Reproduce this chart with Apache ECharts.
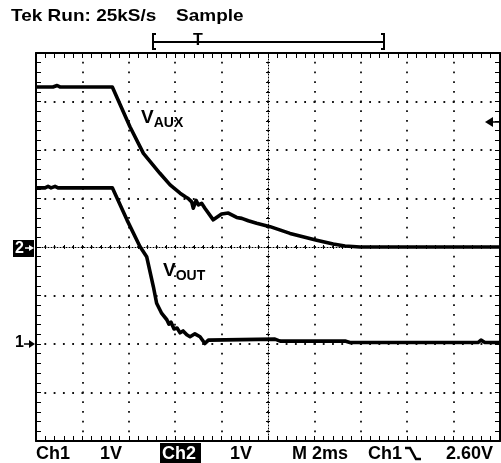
<!DOCTYPE html>
<html>
<head>
<meta charset="utf-8">
<title>Tek scope capture</title>
<script src="https://cdn.jsdelivr.net/npm/echarts@6/dist/echarts.min.js"></script>
<style>
	html, body {
		margin: 0;
		padding: 0;
		background: #fff;
	}
	#chart {
		width: 501px;
		height: 463px;
	}
</style>
</head>
<body>
<div id="chart"></div>
<script>
	// time in ms (M 2ms / div), amplitude in screen divisions
	var vauxT = [0, 0.52, 0.60, 0.73, 0.91, 1.03, 3.29, 4.05, 4.63, 5.34, 5.78, 6.21, 6.42, 6.56, 6.71, 6.78, 6.90, 7.00, 7.14, 7.28, 7.64, 8.00, 8.29, 8.65, 8.87, 9.15, 9.51, 10.09, 10.95, 12.10, 12.81, 13.32, 13.97, 20]
	var vauxV = [7.30, 7.30, 7.33, 7.30, 7.33, 7.30, 7.30, 6.48, 5.93, 5.52, 5.28, 5.11, 5.04, 5.00, 4.93, 4.80, 4.96, 4.87, 4.90, 4.80, 4.56, 4.68, 4.70, 4.61, 4.59, 4.54, 4.49, 4.42, 4.28, 4.14, 4.06, 4.02, 4.00, 4.00]
	var voutT = [0, 0.39, 0.52, 0.65, 0.82, 0.95, 3.29, 3.92, 4.48, 4.77, 5.06, 5.20, 5.42, 5.64, 5.73, 5.82, 5.95, 6.08, 6.21, 6.34, 6.50, 6.64, 6.85, 7.07, 7.28, 7.43, 10.30, 10.52, 13.32, 13.53, 19.05, 19.18, 19.35, 20]
	var voutV = [5.22, 5.22, 5.25, 5.22, 5.25, 5.22, 5.22, 4.56, 4.01, 3.80, 3.18, 2.84, 2.63, 2.50, 2.41, 2.45, 2.31, 2.33, 2.23, 2.27, 2.19, 2.15, 2.21, 2.15, 2.01, 2.08, 2.10, 2.06, 2.06, 2.03, 2.03, 2.08, 2.03, 2.03]

	var statusTexts = ['Ch1', '1V', 'Ch2', '1V', 'M 2ms', 'Ch1', '2.60V']
	var statusX = [36, 100, 162, 230, 292, 368, 446]
	var headerTexts = ['Tek Run: 25kS/s', 'Sample']
	var headerX = [11, 176]

	function pairs(t, v) {
		var out = []
		for (var i = 0; i < t.length; i++) {
			out.push([t[i], v[i]])
		}
		return out
	}

	var font = '"Liberation Sans", Arial, sans-serif'
	var noLabel = { show: false }

	// border axes: solid frame with small inward ticks every 0.2 div
	function frameX(pos) {
		return {
			type: 'value', position: pos, min: 0, max: 20, interval: 2,
			axisLine: { show: true, onZero: false, lineStyle: { color: '#000', width: 2 } },
			axisTick: { show: true, inside: true, length: 5, lineStyle: { color: '#000', width: 1 } },
			minorTick: { show: true, splitNumber: 5, length: 5, lineStyle: { color: '#000', width: 1 } },
			axisLabel: noLabel,
			splitLine: pos === 'bottom' ? { show: true, lineStyle: { color: '#111', width: 1.8, type: [1.8, 7.9], dashOffset: 0.9 } } : { show: false }
		}
	}
	function frameY(pos) {
		return {
			type: 'value', position: pos, min: 0, max: 8, interval: 1,
			axisLine: { show: true, onZero: false, lineStyle: { color: '#000', width: 2 } },
			axisTick: { show: true, inside: true, length: 5, lineStyle: { color: '#000', width: 1 } },
			minorTick: { show: true, splitNumber: 5, length: 5, lineStyle: { color: '#000', width: 1 } },
			axisLabel: noLabel,
			splitLine: pos === 'left' ? { show: true, lineStyle: { color: '#111', width: 1.8, type: [1.8, 7.48], dashOffset: 0.9 } } : { show: false }
		}
	}
	// centre crosshair: fine dotted line with tiny ticks on both sides
	function centreX(inside) {
		return {
			type: 'value', position: 'bottom', offset: -194, min: 0, max: 20, interval: 2,
			axisLine: { show: inside, onZero: false, lineStyle: { color: '#000', width: 1, type: [1, 2] } },
			axisTick: { show: true, inside: inside, length: 2, lineStyle: { color: '#000', width: 1 } },
			minorTick: { show: true, splitNumber: 5, length: 2, lineStyle: { color: '#000', width: 1 } },
			axisLabel: noLabel,
			splitLine: { show: false }
		}
	}
	function centreY(inside) {
		return {
			type: 'value', position: 'left', offset: -232, min: 0, max: 8, interval: 1,
			axisLine: { show: inside, onZero: false, lineStyle: { color: '#000', width: 1, type: [1, 2] } },
			axisTick: { show: true, inside: inside, length: 2, lineStyle: { color: '#000', width: 1 } },
			minorTick: { show: true, splitNumber: 5, length: 2, lineStyle: { color: '#000', width: 1 } },
			axisLabel: noLabel,
			splitLine: { show: false }
		}
	}

	var graphics = []
	// header
	headerTexts.forEach(function (txt, i) {
		graphics.push({
			type: 'text', x: headerX[i], y: 17, scaleY: 0.82,
			style: { x: 0, y: 0, text: txt, fill: '#000', font: 'bold 19px ' + font, verticalAlign: 'middle' }
		})
	})
	// trigger position bar
	graphics.push({ type: 'line', shape: { x1: 153, y1: 42, x2: 384, y2: 42 }, style: { stroke: '#000', lineWidth: 2 } })
	graphics.push({ type: 'polyline', shape: { points: [[156, 34], [153, 34], [153, 49], [156, 49]] }, style: { stroke: '#000', lineWidth: 2, fill: null } })
	graphics.push({ type: 'polyline', shape: { points: [[381, 34], [384, 34], [384, 49], [381, 49]] }, style: { stroke: '#000', lineWidth: 2, fill: null } })
	graphics.push({ type: 'text', x: 198, y: 41, style: { text: 'T', fill: '#000', font: 'bold 16px ' + font, align: 'center', verticalAlign: 'middle' } })
	// status line
	graphics.push({ type: 'rect', shape: { x: 160, y: 443, width: 41, height: 20 }, style: { fill: '#000' } })
	statusTexts.forEach(function (txt, i) {
		graphics.push({
			type: 'text', x: statusX[i], y: 454,
			style: { text: txt, fill: i === 2 ? '#fff' : '#000', font: 'bold 18px ' + font, verticalAlign: 'middle' }
		})
	})
	graphics.push({ type: 'polyline', shape: { points: [[405, 448], [410, 448], [416, 459], [421, 459]] }, style: { stroke: '#000', lineWidth: 2.5, fill: null } })
	// channel ground markers
	graphics.push({ type: 'rect', shape: { x: 13, y: 240, width: 21, height: 17 }, style: { fill: '#000' } })
	graphics.push({ type: 'text', x: 15, y: 249, style: { text: '2', fill: '#fff', font: 'bold 16px ' + font, verticalAlign: 'middle' } })
	graphics.push({ type: 'line', shape: { x1: 25, y1: 248, x2: 30, y2: 248 }, style: { stroke: '#fff', lineWidth: 1.5 } })
	graphics.push({ type: 'polygon', shape: { points: [[29, 245], [34, 248], [29, 251]] }, style: { fill: '#fff' } })
	graphics.push({ type: 'text', x: 15, y: 343, style: { text: '1', fill: '#000', font: 'bold 16px ' + font, verticalAlign: 'middle' } })
	graphics.push({ type: 'line', shape: { x1: 24, y1: 344, x2: 30, y2: 344 }, style: { stroke: '#000', lineWidth: 1.5 } })
	graphics.push({ type: 'polygon', shape: { points: [[29, 340], [35, 344], [29, 348]] }, style: { fill: '#000' } })
	// trigger level arrow
	graphics.push({ type: 'polygon', shape: { points: [[485, 122], [493, 117], [493, 127]] }, style: { fill: '#000' } })
	graphics.push({ type: 'line', shape: { x1: 492, y1: 122, x2: 500, y2: 122 }, style: { stroke: '#000', lineWidth: 1.5 } })
	// trace labels
	var labelRich = {
		v: { font: 'bold 19px ' + font, fill: '#000' },
		s: { font: 'bold 14px ' + font, fill: '#000', padding: [10, 0, 0, 0] }
	}
	graphics.push({ type: 'text', x: 141, y: 118, style: { text: '{v|V}{s|AUX}', verticalAlign: 'middle', rich: labelRich } })
	graphics.push({ type: 'text', x: 163, y: 271, style: { text: '{v|V}{s|OUT}', verticalAlign: 'middle', rich: labelRich } })

	var myChart = echarts.init(document.getElementById('chart'), null, { renderer: 'canvas' })
	var option = {
		animation: false,
		backgroundColor: '#fff',
		grid: { left: 36, right: 1, top: 53, bottom: 22, containLabel: false, outerBoundsMode: 'none' },
		xAxis: [frameX('bottom'), frameX('top'), centreX(true), centreX(false)],
		yAxis: [frameY('left'), frameY('right'), centreY(true), centreY(false)],
		series: [{
			name: 'VAUX',
			type: 'line',
			xAxisIndex: 0,
			yAxisIndex: 0,
			showSymbol: false,
			data: pairs(vauxT, vauxV),
			lineStyle: { color: '#000', width: 3.6, join: 'round' },
			z: 5
		}, {
			name: 'VOUT',
			type: 'line',
			xAxisIndex: 0,
			yAxisIndex: 0,
			showSymbol: false,
			data: pairs(voutT, voutV),
			lineStyle: { color: '#000', width: 3.6, join: 'round' },
			z: 5
		}],
		graphic: graphics
	}
	myChart.setOption(option)
</script>
</body>
</html>
